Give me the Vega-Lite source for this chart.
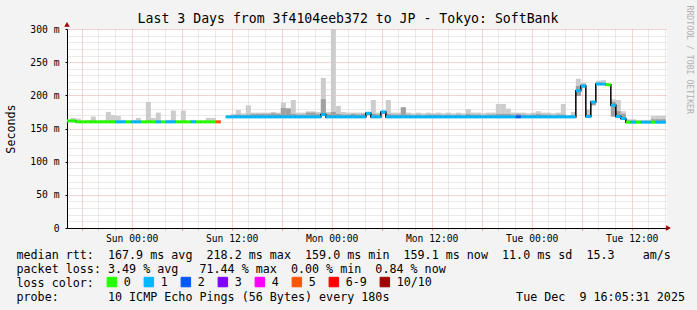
{
"$schema": "https://vega.github.io/schema/vega-lite/v6.json",
"autosize": "none",
"width": 600,
"height": 199,
"padding": {"left": 67, "top": 29, "right": 30, "bottom": 82},
"background": "#f3f3f3",
"view": {"fill": "white", "stroke": null},
"config": {"font": "DejaVu Sans Mono"},
"title": {"text": "Last 3 Days from 3f4104eeb372 to JP - Tokyo: SoftBank", "font": "DejaVu Sans Mono", "fontSize": 13.2, "fontWeight": "normal", "color": "black", "anchor": "middle", "frame": "group", "dx": -19, "dy": 37, "baseline": "alphabetic", "offset": 5.5},
"data": {"values": [
{"t0":-7.9,"t1":-7.3,"med":161.5,"lo":160.5,"hi":163,"dk":162,"loss":"0","seg":1},
{"t0":-7.3,"t1":-6.7,"med":161.5,"lo":160.5,"hi":166,"dk":162,"loss":"0","seg":1},
{"t0":-6.7,"t1":-6.1,"med":160,"lo":159,"hi":165,"dk":161,"loss":"0","seg":1},
{"t0":-6.1,"t1":-5.5,"med":160,"lo":159,"hi":162,"dk":161,"loss":"0","seg":1},
{"t0":-5.5,"t1":-4.9,"med":160,"lo":159,"hi":163,"dk":161,"loss":"0","seg":1},
{"t0":-4.9,"t1":-4.3,"med":160,"lo":159,"hi":168,"dk":162,"loss":"0","seg":1},
{"t0":-4.3,"t1":-3.7,"med":160,"lo":159,"hi":162,"dk":161,"loss":"0","seg":1},
{"t0":-3.7,"t1":-3.1,"med":160,"lo":159,"hi":163,"dk":161,"loss":"0","seg":1},
{"t0":-3.1,"t1":-2.5,"med":160,"lo":159,"hi":175,"dk":162,"loss":"0","seg":1},
{"t0":-2.5,"t1":-1.9,"med":160,"lo":159,"hi":170,"dk":162,"loss":"0","seg":1},
{"t0":-1.9,"t1":-1.3,"med":160,"lo":159,"hi":169,"dk":161,"loss":"1","seg":1},
{"t0":-1.3,"t1":-0.7,"med":160,"lo":159,"hi":163,"dk":161,"loss":"1","seg":1},
{"t0":-0.7,"t1":-0.1,"med":160,"lo":159,"hi":162,"dk":161,"loss":"0","seg":1},
{"t0":-0.1,"t1":0.5,"med":160,"lo":159,"hi":163,"dk":161,"loss":"1","seg":1},
{"t0":0.5,"t1":1.1,"med":160,"lo":159,"hi":166,"dk":161,"loss":"1","seg":1},
{"t0":1.1,"t1":1.7,"med":160,"lo":159,"hi":162,"dk":161,"loss":"0","seg":1},
{"t0":1.7,"t1":2.3,"med":160,"lo":159,"hi":190,"dk":162,"loss":"0","seg":1},
{"t0":2.3,"t1":2.9,"med":160,"lo":159,"hi":166,"dk":161,"loss":"0","seg":1},
{"t0":2.9,"t1":3.5,"med":160,"lo":159,"hi":174,"dk":162,"loss":"1","seg":1},
{"t0":3.5,"t1":4.1,"med":160,"lo":159,"hi":162,"dk":161,"loss":"0","seg":1},
{"t0":4.1,"t1":4.7,"med":160,"lo":159,"hi":163,"dk":161,"loss":"1","seg":1},
{"t0":4.7,"t1":5.3,"med":160,"lo":159,"hi":177,"dk":162,"loss":"1","seg":1},
{"t0":5.3,"t1":5.9,"med":160,"lo":159,"hi":162,"dk":161,"loss":"0","seg":1},
{"t0":5.9,"t1":6.5,"med":160,"lo":159,"hi":177,"dk":162,"loss":"0","seg":1},
{"t0":6.5,"t1":7.1,"med":160,"lo":159,"hi":162,"dk":161,"loss":"0","seg":1},
{"t0":7.1,"t1":7.7,"med":160,"lo":159,"hi":163,"dk":161,"loss":"1","seg":1},
{"t0":7.7,"t1":8.3,"med":160,"lo":159,"hi":162,"dk":161,"loss":"0","seg":1},
{"t0":8.3,"t1":8.9,"med":160,"lo":159,"hi":162,"dk":161,"loss":"0","seg":1},
{"t0":8.9,"t1":9.5,"med":160,"lo":159,"hi":166,"dk":161,"loss":"0","seg":1},
{"t0":9.5,"t1":10.1,"med":160,"lo":159,"hi":166,"dk":161,"loss":"0","seg":1},
{"t0":10.1,"t1":10.7,"med":160,"lo":159,"hi":162,"dk":161,"loss":"5","seg":1},
{"t0":11.3,"t1":11.9,"med":167.5,"lo":166.5,"hi":170,"dk":169,"loss":"1","seg":2},
{"t0":11.9,"t1":12.5,"med":167.5,"lo":166.5,"hi":172,"dk":170,"loss":"1","seg":2},
{"t0":12.5,"t1":13.1,"med":167.5,"lo":166.5,"hi":178,"dk":171,"loss":"1","seg":2},
{"t0":13.1,"t1":13.7,"med":167.5,"lo":166.5,"hi":173,"dk":170,"loss":"1","seg":2},
{"t0":13.7,"t1":14.3,"med":167.5,"lo":166.5,"hi":185,"dk":171,"loss":"1","seg":2},
{"t0":14.3,"t1":14.9,"med":167.5,"lo":166.5,"hi":174,"dk":172,"loss":"1","seg":2},
{"t0":14.9,"t1":15.5,"med":167.5,"lo":166.5,"hi":174,"dk":172,"loss":"1","seg":2},
{"t0":15.5,"t1":16.1,"med":167.5,"lo":166.5,"hi":174,"dk":172,"loss":"1","seg":2},
{"t0":16.1,"t1":16.7,"med":167.5,"lo":166.5,"hi":174,"dk":172,"loss":"1","seg":2},
{"t0":16.7,"t1":17.3,"med":167.5,"lo":166.5,"hi":175,"dk":173,"loss":"1","seg":2},
{"t0":17.3,"t1":17.9,"med":167.5,"lo":166.5,"hi":174,"dk":172,"loss":"1","seg":2},
{"t0":17.9,"t1":18.5,"med":167.5,"lo":166.5,"hi":189,"dk":181,"loss":"1","seg":2},
{"t0":18.5,"t1":19.1,"med":167.5,"lo":166.5,"hi":181,"dk":180,"loss":"1","seg":2},
{"t0":19.1,"t1":19.7,"med":167.5,"lo":166.5,"hi":193,"dk":172,"loss":"1","seg":2},
{"t0":19.7,"t1":20.3,"med":167.5,"lo":166.5,"hi":174,"dk":171,"loss":"1","seg":2},
{"t0":20.3,"t1":20.9,"med":167.5,"lo":166.5,"hi":174,"dk":171,"loss":"1","seg":2},
{"t0":20.9,"t1":21.5,"med":167.5,"lo":166.5,"hi":176,"dk":174,"loss":"1","seg":2},
{"t0":21.5,"t1":22.1,"med":167.5,"lo":166.5,"hi":176,"dk":174,"loss":"1","seg":2},
{"t0":22.1,"t1":22.7,"med":167.5,"lo":166.5,"hi":175,"dk":172,"loss":"1","seg":2},
{"t0":22.7,"t1":23.3,"med":171,"lo":169,"hi":226,"dk":194,"loss":"1","seg":2},
{"t0":23.3,"t1":23.9,"med":167.5,"lo":166.5,"hi":175,"dk":172,"loss":"1","seg":2},
{"t0":23.9,"t1":24.5,"med":167.5,"lo":166.5,"hi":302,"dk":175,"loss":"1","seg":2},
{"t0":24.5,"t1":25.1,"med":167.5,"lo":166.5,"hi":184,"dk":172,"loss":"1","seg":2},
{"t0":25.1,"t1":25.7,"med":167.5,"lo":166.5,"hi":175,"dk":171,"loss":"1","seg":2},
{"t0":25.7,"t1":26.3,"med":167.5,"lo":166.5,"hi":174,"dk":171,"loss":"1","seg":2},
{"t0":26.3,"t1":26.9,"med":167.5,"lo":166.5,"hi":174,"dk":172,"loss":"1","seg":2},
{"t0":26.9,"t1":27.5,"med":167.5,"lo":166.5,"hi":174,"dk":171,"loss":"1","seg":2},
{"t0":27.5,"t1":28.1,"med":167.5,"lo":166.5,"hi":174,"dk":172,"loss":"1","seg":2},
{"t0":28.1,"t1":28.7,"med":173,"lo":170,"hi":175,"dk":174,"loss":"1","seg":2},
{"t0":28.7,"t1":29.3,"med":167.5,"lo":166.5,"hi":193,"dk":172,"loss":"1","seg":2},
{"t0":29.3,"t1":29.9,"med":167.5,"lo":166.5,"hi":174,"dk":171,"loss":"1","seg":2},
{"t0":29.9,"t1":30.5,"med":175,"lo":172,"hi":176,"dk":176,"loss":"1","seg":2},
{"t0":30.5,"t1":31.1,"med":167.5,"lo":166.5,"hi":193,"dk":172,"loss":"1","seg":2},
{"t0":31.1,"t1":31.7,"med":167.5,"lo":166.5,"hi":174,"dk":171,"loss":"1","seg":2},
{"t0":31.7,"t1":32.3,"med":167.5,"lo":166.5,"hi":174,"dk":171,"loss":"1","seg":2},
{"t0":32.3,"t1":32.9,"med":167.5,"lo":166.5,"hi":182,"dk":182,"loss":"1","seg":2},
{"t0":32.9,"t1":33.5,"med":167.5,"lo":166.5,"hi":174,"dk":171,"loss":"1","seg":2},
{"t0":33.5,"t1":34.1,"med":167.5,"lo":166.5,"hi":173,"dk":170,"loss":"1","seg":2},
{"t0":34.1,"t1":34.7,"med":167.5,"lo":166.5,"hi":174,"dk":171,"loss":"1","seg":2},
{"t0":34.7,"t1":35.3,"med":167.5,"lo":166.5,"hi":173,"dk":170,"loss":"1","seg":2},
{"t0":35.3,"t1":35.9,"med":167.5,"lo":166.5,"hi":174,"dk":171,"loss":"1","seg":2},
{"t0":35.9,"t1":36.5,"med":167.5,"lo":166.5,"hi":173,"dk":171,"loss":"1","seg":2},
{"t0":36.5,"t1":37.1,"med":167.5,"lo":166.5,"hi":174,"dk":171,"loss":"1","seg":2},
{"t0":37.1,"t1":37.7,"med":167.5,"lo":166.5,"hi":173,"dk":170,"loss":"1","seg":2},
{"t0":37.7,"t1":38.3,"med":167.5,"lo":166.5,"hi":174,"dk":171,"loss":"1","seg":2},
{"t0":38.3,"t1":38.9,"med":167.5,"lo":166.5,"hi":173,"dk":170,"loss":"1","seg":2},
{"t0":38.9,"t1":39.5,"med":167.5,"lo":166.5,"hi":174,"dk":171,"loss":"1","seg":2},
{"t0":39.5,"t1":40.1,"med":167.5,"lo":166.5,"hi":173,"dk":170,"loss":"1","seg":2},
{"t0":40.1,"t1":40.7,"med":167.5,"lo":166.5,"hi":179,"dk":172,"loss":"1","seg":2},
{"t0":40.7,"t1":41.3,"med":167.5,"lo":166.5,"hi":174,"dk":171,"loss":"1","seg":2},
{"t0":41.3,"t1":41.9,"med":167.5,"lo":166.5,"hi":174,"dk":171,"loss":"1","seg":2},
{"t0":41.9,"t1":42.5,"med":167.5,"lo":166.5,"hi":173,"dk":170,"loss":"1","seg":2},
{"t0":42.5,"t1":43.1,"med":167.5,"lo":166.5,"hi":174,"dk":171,"loss":"1","seg":2},
{"t0":43.1,"t1":43.7,"med":167.5,"lo":166.5,"hi":174,"dk":171,"loss":"1","seg":2},
{"t0":43.7,"t1":44.3,"med":167.5,"lo":166.5,"hi":187,"dk":172,"loss":"1","seg":2},
{"t0":44.3,"t1":44.9,"med":167.5,"lo":166.5,"hi":187,"dk":172,"loss":"1","seg":2},
{"t0":44.9,"t1":45.5,"med":167.5,"lo":166.5,"hi":180,"dk":172,"loss":"1","seg":2},
{"t0":45.5,"t1":46.1,"med":167.5,"lo":166.5,"hi":174,"dk":171,"loss":"1","seg":2},
{"t0":46.1,"t1":46.7,"med":167.5,"lo":166.5,"hi":174,"dk":172,"loss":"2","seg":2},
{"t0":46.7,"t1":47.3,"med":167.5,"lo":166.5,"hi":174,"dk":171,"loss":"1","seg":2},
{"t0":47.3,"t1":47.9,"med":167.5,"lo":166.5,"hi":173,"dk":170,"loss":"1","seg":2},
{"t0":47.9,"t1":48.5,"med":167.5,"lo":166.5,"hi":174,"dk":171,"loss":"1","seg":2},
{"t0":48.5,"t1":49.1,"med":167.5,"lo":166.5,"hi":176,"dk":172,"loss":"1","seg":2},
{"t0":49.1,"t1":49.7,"med":167.5,"lo":166.5,"hi":174,"dk":171,"loss":"1","seg":2},
{"t0":49.7,"t1":50.3,"med":167.5,"lo":166.5,"hi":174,"dk":171,"loss":"1","seg":2},
{"t0":50.3,"t1":50.9,"med":167.5,"lo":166.5,"hi":173,"dk":170,"loss":"1","seg":2},
{"t0":50.9,"t1":51.5,"med":167.5,"lo":166.5,"hi":174,"dk":171,"loss":"1","seg":2},
{"t0":51.5,"t1":52.1,"med":167.5,"lo":166.5,"hi":187,"dk":171,"loss":"1","seg":2},
{"t0":52.1,"t1":52.7,"med":167.5,"lo":166.5,"hi":170,"dk":169,"loss":"1","seg":2},
{"t0":52.7,"t1":53.3,"med":167.5,"lo":166.5,"hi":175,"dk":170,"loss":"1","seg":2},
{"t0":53.3,"t1":53.9,"med":207,"lo":199,"hi":225,"dk":214,"loss":"1","seg":2},
{"t0":53.9,"t1":54.5,"med":214,"lo":212,"hi":219,"dk":217,"loss":"1","seg":2},
{"t0":54.5,"t1":55.1,"med":168,"lo":167,"hi":179,"dk":171,"loss":"1","seg":2},
{"t0":55.1,"t1":55.7,"med":190,"lo":185,"hi":191,"dk":190,"loss":"1","seg":2},
{"t0":55.7,"t1":56.3,"med":217,"lo":216,"hi":222,"dk":219,"loss":"1","seg":2},
{"t0":56.3,"t1":56.9,"med":217,"lo":216,"hi":223,"dk":219,"loss":"1","seg":2},
{"t0":56.9,"t1":57.5,"med":216,"lo":215,"hi":217,"dk":217,"loss":"0","seg":2},
{"t0":57.5,"t1":58.1,"med":185,"lo":168,"hi":194,"dk":190,"loss":"1","seg":2},
{"t0":58.1,"t1":58.7,"med":168,"lo":167,"hi":193,"dk":176,"loss":"1","seg":2},
{"t0":58.7,"t1":59.3,"med":165,"lo":164,"hi":176,"dk":172,"loss":"1","seg":2},
{"t0":59.3,"t1":59.9,"med":159.5,"lo":158.5,"hi":164,"dk":162,"loss":"0","seg":2},
{"t0":59.9,"t1":60.5,"med":159.5,"lo":158.5,"hi":164,"dk":162,"loss":"1","seg":2},
{"t0":60.5,"t1":61.1,"med":159.5,"lo":158.5,"hi":163,"dk":161,"loss":"0","seg":2},
{"t0":61.1,"t1":61.7,"med":159.5,"lo":158.5,"hi":163,"dk":161,"loss":"1","seg":2},
{"t0":61.7,"t1":62.3,"med":159.5,"lo":158.5,"hi":163,"dk":161,"loss":"1","seg":2},
{"t0":62.3,"t1":62.9,"med":159.5,"lo":158.5,"hi":169,"dk":164,"loss":"0","seg":2},
{"t0":62.9,"t1":63.5,"med":159.5,"lo":158.5,"hi":169,"dk":164,"loss":"1","seg":2},
{"t0":63.5,"t1":64.1,"med":159.5,"lo":158.5,"hi":169,"dk":164,"loss":"1","seg":2}
]},
"resolve": {"axis": {"x": "independent", "y": "independent"}},
"layer": [
{
"mark": {"type": "bar", "color": "#cccccc", "clip": true},
"encoding": {
"x": {"field": "t0", "type": "quantitative", "scale": {"domain": [-7.76, 64.24], "nice": false, "zero": false},
"axis": {
"values": [-6,-4,-2,0,2,4,6,8,10,12,14,16,18,20,22,24,26,28,30,32,34,36,38,40,42,44,46,48,50,52,54,56,58,60,62,64],
"labelExpr": "datum.value === 0 ? 'Sun 00:00' : datum.value === 12 ? 'Sun 12:00' : datum.value === 24 ? 'Mon 00:00' : datum.value === 36 ? 'Mon 12:00' : datum.value === 48 ? 'Tue 00:00' : datum.value === 60 ? 'Tue 12:00' : ''",
"labelFont": "DejaVu Sans Mono", "labelFontSize": 9.7, "labelColor": "black", "labelOverlap": false, "labelFlush": false, "labelPadding": 3,
"grid": true,
"gridColor": {"condition": {"test": "datum.value % 6 === 0", "value": "#e6a8a8"}, "value": "#d4d4d4"},
"gridDash": [1, 1], "gridWidth": 1,
"ticks": true, "tickSize": 2,
"tickColor": {"condition": {"test": "datum.value % 6 === 0", "value": "#e08080"}, "value": "#c8c8c8"},
"domainColor": "black", "domainWidth": 1,
"title": ["median rtt:\u00a0\u00a0167.9 ms avg\u00a0\u00a0218.2 ms max\u00a0\u00a0159.0 ms min\u00a0\u00a0159.1 ms now\u00a0\u00a011.0 ms sd\u00a0\u00a015.3\u00a0\u00a0\u00a0\u00a0am/s", "packet loss:\u00a03.49 % avg\u00a0\u00a0\u00a071.44 % max\u00a0\u00a00.00 % min\u00a0\u00a00.84 % now", "loss color:", "probe:\u00a0\u00a0\u00a0\u00a0\u00a0\u00a0\u00a010 ICMP Echo Pings (56 Bytes) every 180s\u00a0\u00a0\u00a0\u00a0\u00a0\u00a0\u00a0\u00a0\u00a0\u00a0\u00a0\u00a0\u00a0\u00a0\u00a0\u00a0\u00a0\u00a0Tue Dec\u00a0\u00a09 16:05:31 2025"],
"titleFont": "DejaVu Sans Mono", "titleFontSize": 11.7, "titleFontWeight": "normal", "titleColor": "black",
"titleAnchor": "start", "titleAlign": "left", "titleBaseline": "top", "titleX": -51, "titleY": 21, "titleLineHeight": 14, "titleLimit": 1000
}},
"x2": {"field": "t1"},
"y": {"field": "lo", "type": "quantitative", "scale": {"domain": [0, 300], "nice": false, "zero": false},
"axis": {
"values": [0,10,20,30,40,50,60,70,80,90,100,110,120,130,140,150,160,170,180,190,200,210,220,230,240,250,260,270,280,290,300],
"labelExpr": "datum.value === 0 ? '0' : (datum.value % 50 === 0 ? datum.value + ' m' : '')",
"labelFont": "DejaVu Sans Mono", "labelFontSize": 9.7, "labelColor": "black", "labelPadding": 6, "labelOverlap": false, "labelFlush": false,
"grid": true,
"gridColor": {"condition": {"test": "datum.value % 50 === 0", "value": "#e6a8a8"}, "value": "#d4d4d4"},
"gridDash": [1, 1], "gridWidth": 1,
"tickSize": 2,
"tickColor": {"condition": {"test": "datum.value % 50 === 0", "value": "#000000"}, "value": "transparent"},
"domainColor": "black", "domainWidth": 1,
"title": "Seconds", "titleFont": "DejaVu Sans Mono", "titleFontSize": 11.7, "titleFontWeight": "normal", "titleColor": "black",
"titleX": -57, "titleY": 99.5, "titleAngle": -90, "titleAlign": "center", "titleBaseline": "middle"
}},
"y2": {"field": "hi"}
}
},
{
"mark": {"type": "bar", "color": "#a0a0a0", "clip": true},
"encoding": {
"x": {"field": "t0", "type": "quantitative", "axis": null},
"x2": {"field": "t1"},
"y": {"field": "lo", "type": "quantitative", "scale": {"domain": [0, 300], "nice": false, "zero": false}, "axis": null},
"y2": {"field": "dk"}
}
},
{
"mark": {"type": "line", "interpolate": "step-after", "color": "black", "strokeWidth": 1.5, "clip": true},
"encoding": {
"x": {"field": "t0", "type": "quantitative", "axis": null},
"y": {"field": "med", "type": "quantitative", "scale": {"domain": [0, 300], "nice": false, "zero": false}, "axis": null},
"detail": {"field": "seg", "type": "nominal"}
}
},
{
"mark": {"type": "rule", "strokeWidth": 3, "strokeCap": "butt", "clip": true},
"encoding": {
"x": {"field": "t0", "type": "quantitative", "axis": null},
"x2": {"field": "t1"},
"y": {"field": "med", "type": "quantitative", "scale": {"domain": [0, 300], "nice": false, "zero": false}, "axis": null},
"color": {"field": "loss", "type": "nominal",
"scale": {"domain": ["0","1","2","3","4","5","6-9","10/10"], "range": ["#26ff00","#00b8ff","#0059ff","#7e00ff","#ff00ff","#ff5500","#ff0000","#a10000"]},
"legend": {"orient": "none", "legendX": 39, "legendY": 247, "direction": "horizontal", "title": null,
"labelFont": "DejaVu Sans Mono", "labelFontSize": 11.7, "labelColor": "black", "labelOffset": 6,
"columnPadding": 11, "symbolType": "square", "symbolSize": 90, "symbolStrokeColor": "black", "symbolStrokeWidth": 1, "padding": 0,
"encode": {"symbols": {"update": {"fill": {"scale": "color", "field": "value"}, "stroke": {"value": "black"}, "strokeWidth": {"value": 1}, "opacity": {"value": 1}}}}}
}
}
},
{
"data": {"values": [{}]},
"mark": {"type": "point", "shape": "triangle-up", "filled": true, "color": "#a00000", "size": 30, "opacity": 1, "clip": false},
"encoding": {
"x": {"datum": -7.76, "type": "quantitative", "axis": null},
"y": {"datum": 307, "type": "quantitative", "scale": {"domain": [0, 300], "nice": false, "zero": false},
"axis": {"orient": "right", "labels": false, "ticks": false, "domain": false, "grid": false,
"title": "RRDTOOL / TOBI OETIKER", "titleAngle": 90, "titleX": 21, "titleY": -24, "titleAlign": "left", "titleBaseline": "middle",
"titleColor": "#b0b0b0", "titleFont": "DejaVu Sans Mono", "titleFontSize": 8.2, "titleFontWeight": "normal"}}
}
},
{
"data": {"values": [{}]},
"mark": {"type": "point", "shape": "triangle-right", "filled": true, "color": "#a00000", "size": 30, "opacity": 1, "clip": false},
"encoding": {
"x": {"datum": 64.42, "type": "quantitative", "axis": null},
"y": {"datum": 0, "type": "quantitative", "scale": {"domain": [0, 300], "nice": false, "zero": false}, "axis": null}
}
}
]
}
